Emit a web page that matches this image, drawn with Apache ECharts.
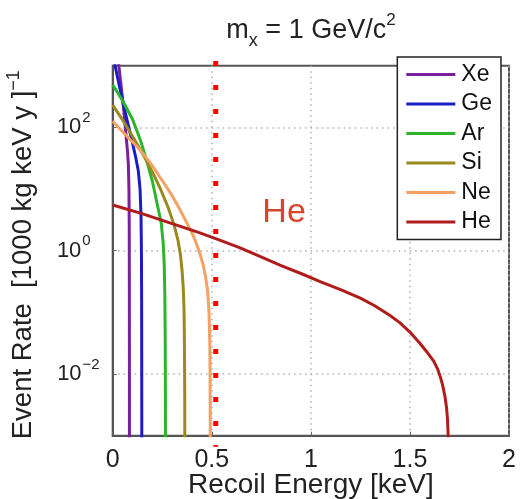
<!DOCTYPE html>
<html>
<head>
<meta charset="utf-8">
<script src="https://cdn.jsdelivr.net/npm/echarts@6/dist/echarts.min.js"></script>
<style>
  html, body { margin: 0; padding: 0; background: #fff; }
  #chart { width: 520px; height: 499px; }
</style>
</head>
<body>
<div id="chart"></div>
<script>
const FONT = '"Liberation Sans", Arial, Helvetica, sans-serif';

// Differential recoil spectra for a 1 GeV/c^2 WIMP: [recoil energy (keV), rate (1000 kg keV y)^-1]
const xeRate = [[0, 5000], [0.02, 2000], [0.04, 562], [0.055, 200], [0.065, 89], [0.075, 40],
  [0.079, 25], [0.082, 10], [0.0835, 2.5], [0.084, 0.316], [0.0843, 0.0316], [0.0845, 0.0005]];
const geRate = [[0, 1585], [0.012, 1000], [0.035, 447], [0.062, 182], [0.09, 76], [0.115, 34],
  [0.129, 20], [0.138, 10], [0.143, 3.55], [0.145, 1], [0.146, 0.158], [0.1465, 0.0158], [0.147, 0.0005]];
const arRate = [[0, 490], [0.05, 270], [0.1, 135], [0.14, 62], [0.17, 30], [0.2, 13.5], [0.225, 5.6],
  [0.245, 2.8], [0.255, 1.3], [0.26, 0.6], [0.263, 0.2], [0.265, 0.04], [0.266, 0.005], [0.2665, 0.0005]];
const siRate = [[0, 229], [0.05, 132], [0.1, 72], [0.15, 38], [0.2, 19], [0.24, 10.2], [0.28, 5.0],
  [0.31, 2.6], [0.32, 1.95], [0.33, 1.45], [0.342, 0.85], [0.35, 0.48], [0.356, 0.25], [0.36, 0.112],
  [0.362, 0.0316], [0.3635, 0.005], [0.364, 0.0005]];
const neRate = [[0, 126], [0.05, 85], [0.1, 58], [0.138, 43], [0.17, 32], [0.2, 24], [0.239, 15.5],
  [0.27, 11], [0.3, 7.8], [0.34, 4.6], [0.38, 2.6], [0.407, 1.75], [0.43, 1.12], [0.445, 0.79],
  [0.457, 0.58], [0.47, 0.355], [0.478, 0.24], [0.482, 0.166], [0.486, 0.1], [0.488, 0.063],
  [0.4905, 0.028], [0.491, 0.0158], [0.492, 0.0032], [0.4925, 0.0005]];
const heRate = [[0, 5.5], [0.14, 4.07], [0.3, 2.75], [0.44, 1.95], [0.54, 1.48], [0.64, 1.12],
  [0.74, 0.813], [0.85, 0.575], [0.95, 0.427], [1.05, 0.313], [1.15, 0.234], [1.25, 0.17],
  [1.32, 0.129], [1.4, 0.0891], [1.45, 0.0676], [1.5, 0.0479], [1.55, 0.0316], [1.59, 0.0219],
  [1.62, 0.0162], [1.64, 0.012], [1.652, 0.00933], [1.665, 0.00661], [1.677, 0.00427],
  [1.685, 0.00282], [1.69, 0.00178], [1.693, 0.001], [1.694, 0.0005]];

const targets = ['Xe', 'Ge', 'Ar', 'Si', 'Ne', 'He'];
const spectra = [xeRate, geRate, arRate, siRate, neRate, heRate];
const colors = ['#7a1f9e', '#1c1cc4', '#2cb52c', '#9a8a1e', '#f5a064', '#b01c1c'];

// Threshold marker drawn as a dotted vertical line
const thresholdEnergy = 0.52;
const thresholdSpan = [1190, 0.00066];

const yTicks = [0.01, 1, 100];
const heLabelAt = [0.865, 4.1];

const chart = echarts.init(document.getElementById('chart'), null, { renderer: 'canvas' });

const series = targets.map((name, i) => ({
  name,
  type: 'line',
  data: spectra[i],
  showSymbol: false,
  symbol: 'none',
  lineStyle: { width: 3, color: colors[i], join: 'round' },
  itemStyle: { color: colors[i] },
  z: 2 + i * 0.01,
  clip: true
}));

series[5].markPoint = {
  symbol: 'circle',
  symbolSize: 0,
  silent: true,
  data: [{ coord: heLabelAt, value: 'He' }],
  label: {
    show: true, position: 'inside', formatter: 'He',
    color: '#d8442c', fontSize: 34, fontFamily: FONT
  }
};

series.push({
  name: 'threshold',
  type: 'line',
  data: thresholdSpan.map(v => [thresholdEnergy, v]),
  symbol: 'none',
  clip: false,
  silent: true,
  z: 5,
  lineStyle: { color: '#ff0000', width: 5, type: [5, 19], cap: 'butt' }
});

const option = {
  animation: false,
  backgroundColor: '#fff',
  textStyle: { fontFamily: FONT },
  title: {
    text: '{m|m}{sub|x}{m| = 1 GeV/c}{sup|2}',
    left: 306, top: 7, textAlign: 'center',
    textStyle: {
      fontWeight: 'normal',
      rich: {
        m: { fontSize: 27, color: '#222', fontFamily: FONT, fontWeight: 'normal', lineHeight: 38 },
        sub: { fontSize: 18, color: '#222', fontFamily: FONT, fontWeight: 'normal', verticalAlign: 'bottom', lineHeight: 38 },
        sup: { fontSize: 17, color: '#222', fontFamily: FONT, fontWeight: 'normal', verticalAlign: 'top', lineHeight: 38 }
      }
    }
  },
  legend: {
    orient: 'vertical',
    right: 19, top: 57,
    data: targets,
    icon: 'rect',
    itemWidth: 49, itemHeight: 3, itemGap: 6.5,
    padding: [6, 9, 6, 9],
    backgroundColor: '#fff',
    borderColor: '#222', borderWidth: 1.5, borderRadius: 0,
    textStyle: { fontSize: 23, color: '#111', fontFamily: FONT, lineHeight: 22, padding: [0, 0, 0, 1] }
  },
  grid: {
    left: 112.7, right: 11, top: 65.7, bottom: 63.3,
    containLabel: false,
    outerBoundsMode: 'none',
    show: true, borderColor: '#555', borderWidth: 2, backgroundColor: 'transparent'
  },
  xAxis: {
    type: 'value', min: 0, max: 2, interval: 0.5,
    name: 'Recoil Energy [keV]', nameLocation: 'middle', nameGap: 36,
    nameMoveOverlap: false,
    nameTextStyle: { fontSize: 28, color: '#222', fontFamily: FONT },
    axisLine: { show: true, lineStyle: { color: '#555', width: 2 } },
    axisTick: { show: true, inside: true, length: 4, lineStyle: { color: '#666' } },
    axisLabel: {
      margin: 12, fontSize: 25, color: '#222', fontFamily: FONT,
      formatter: v => String(v)
    },
    splitLine: { show: true, lineStyle: { type: [1.5, 4], color: '#b0b0b0', width: 1.5 } }
  },
  yAxis: {
    type: 'log', logBase: 10, min: 0.001, max: 1000,
    name: '{t|Event Rate  [1000 kg keV y ]}{s|−1}',
    nameLocation: 'middle', nameRotate: 90, nameGap: 70,
    nameMoveOverlap: false,
    nameTextStyle: {
      rich: {
        t: { fontSize: 27.5, color: '#222', fontFamily: FONT, lineHeight: 38 },
        s: { fontSize: 18, color: '#222', fontFamily: FONT, verticalAlign: 'top', lineHeight: 38, padding: [0, 8, 0, 0] }
      }
    },
    axisLine: { show: true, lineStyle: { color: '#555', width: 2 } },
    axisTick: { show: true, inside: true, length: 4, customValues: yTicks, lineStyle: { color: '#666' } },
    axisLabel: {
      customValues: yTicks,
      margin: 13,
      formatter: v => {
        const e = Math.round(Math.log10(v));
        return e < 0 ? '{b|10}{s|−' + (-e) + '}' : '{b|10}{p|' + e + '}';
      },
      rich: {
        b: { fontSize: 22, color: '#222', fontFamily: FONT, lineHeight: 34 },
        s: { fontSize: 15, color: '#222', fontFamily: FONT, verticalAlign: 'top', lineHeight: 34, padding: [0, 0, 0, 1] },
        p: { fontSize: 15, color: '#222', fontFamily: FONT, verticalAlign: 'top', lineHeight: 34, padding: [0, 9, 0, 1] }
      }
    },
    splitLine: { show: true, lineStyle: { type: [1.5, 4], color: '#b0b0b0', width: 1.5 } }
  },
  series
};

chart.setOption(option);
</script>
</body>
</html>
